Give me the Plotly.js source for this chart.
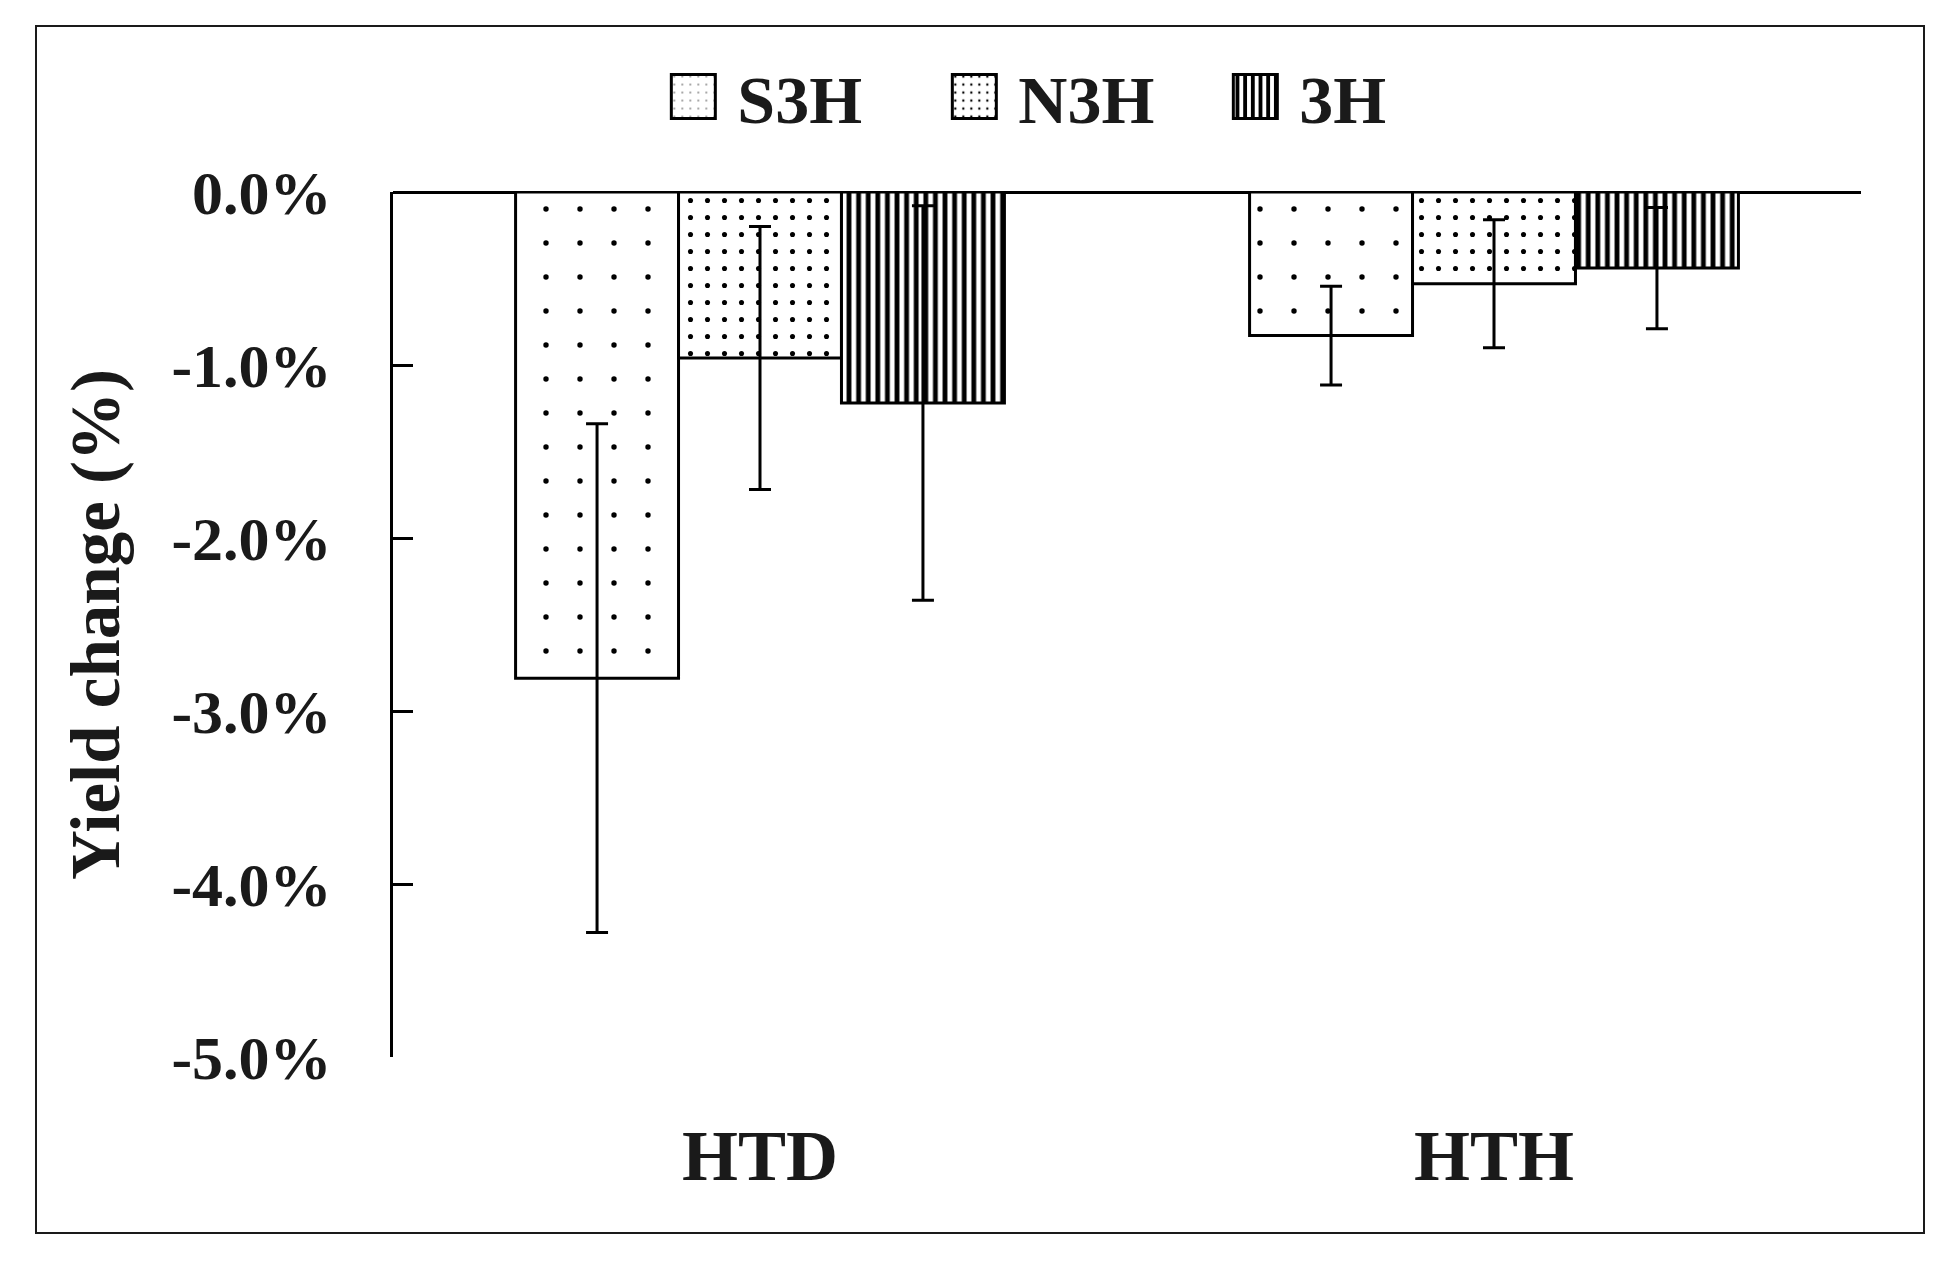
<html><head><meta charset="UTF-8"><title>Yield change</title>
<script src="https://cdn.plot.ly/plotly-3.0.1.min.js"></script>
<style>
  body, html { margin: 0; padding: 0; background: #ffffff; }
  #wrap { position: relative; width: 1950px; height: 1262px; }
  #plot { position: absolute; left: 0; top: 0; width: 1950px; height: 1262px; }
  #frame { position: absolute; left: 35px; top: 25px; width: 1886px; height: 1205px; border: 2px solid #1a1a1a; pointer-events: none; }
</style></head><body>
<div id="wrap"><div id="plot"></div><div id="frame"></div></div>
<script>
  const groups = ['HTD', 'HTH'];
  const seriesNames = ['S3H', 'N3H', '3H'];
  const s3hVals = [-2.81, -0.83];
  const s3hErr = [1.47, 0.285];
  const n3hVals = [-0.96, -0.53];
  const n3hErr = [0.76, 0.37];
  const h3Vals = [-1.22, -0.44];
  const h3Err = [1.14, 0.35];
  const yTicks = [0, -1, -2, -3, -4, -5];
  const yTickText = ['0.0%', '-1.0%', '-2.0%', '-3.0%', '-4.0%', '-5.0%'];

  const serif = 'Liberation Serif, Times New Roman, serif';
  const ink = '#1a1a1a';

  function barTrace(name, vals, errs, pattern) {
    return {
      type: 'bar',
      name: name,
      x: groups,
      y: vals,
      marker: {
        color: '#ffffff',
        line: { color: '#000000', width: 3 },
        pattern: Object.assign({ fgcolor: '#000000', bgcolor: '#ffffff' }, pattern)
      },
      error_y: { type: 'data', array: errs, visible: true, color: '#000000', thickness: 3, width: 11 }
    };
  }

  const traces = [
    barTrace(seriesNames[0], s3hVals, s3hErr, { shape: '.', size: 34, solidity: 0.02 }),
    barTrace(seriesNames[1], n3hVals, n3hErr, { shape: '.', size: 17, solidity: 0.07 }),
    barTrace(seriesNames[2], h3Vals, h3Err, { shape: '|', size: 9.6, solidity: 0.5 })
  ];

  const layout = {
    width: 1950,
    height: 1262,
    margin: { l: 393, r: 89, t: 192, b: 205 },
    paper_bgcolor: '#ffffff',
    plot_bgcolor: '#ffffff',
    barmode: 'group',
    bargap: 0.334,
    bargroupgap: 0,
    font: { family: serif, color: ink, size: 62, weight: 'bold' },
    showlegend: true,
    legend: {
      orientation: 'h',
      x: 0.474, xanchor: 'center',
      y: 1.11, yanchor: 'middle',
      font: { family: serif, size: 68, color: ink, weight: 'bold' },
      itemwidth: 60,
      entrywidth: 206,
      traceorder: 'normal'
    },
    xaxis: {
      type: 'category',
      showline: false,
      showgrid: false,
      zeroline: false,
      ticks: '',
      ticklabelstandoff: 50,
      tickfont: { family: serif, size: 72, color: ink, weight: 'bold' }
    },
    yaxis: {
      range: [-5, 0],
      tickvals: yTicks,
      ticktext: yTickText,
      showgrid: false,
      showline: true,
      linecolor: '#000000',
      linewidth: 3,
      ticks: 'inside',
      ticklen: 20,
      tickwidth: 3,
      tickcolor: '#000000',
      ticklabelstandoff: 46,
      zeroline: true,
      zerolinecolor: '#000000',
      zerolinewidth: 3,
      tickfont: { family: serif, size: 62, color: ink, weight: 'bold' },
      title: { text: 'Yield change (%)', standoff: 30, font: { family: serif, size: 69, color: ink, weight: 'bold' } }
    }
  };

  // enlarge the legend swatches to match the original boxes
  function bigSwatches(gd) {
    gd.querySelectorAll('.legendpoints path').forEach(function (p) {
      p.setAttribute('d', 'M13,22H-31V-22H13Z');
    });
  }

  Plotly.newPlot('plot', traces, layout, { staticPlot: true }).then(function (gd) {
    bigSwatches(gd);
    gd.on('plotly_afterplot', function () { bigSwatches(gd); });
    setTimeout(function () { bigSwatches(gd); }, 300);
  });
</script>
</body></html>
